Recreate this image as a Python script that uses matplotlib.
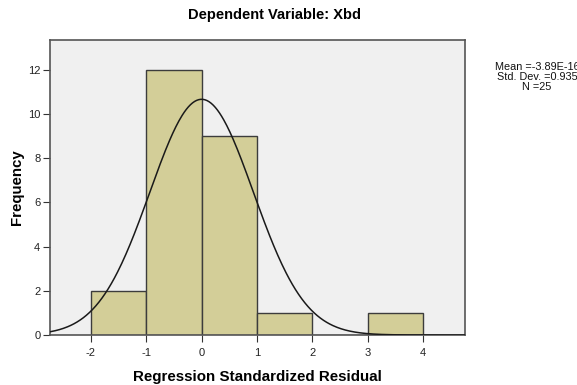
import numpy as np
import matplotlib
matplotlib.use("Agg")
import matplotlib.pyplot as plt

plt.rcParams['font.family'] = ['Liberation Sans', 'DejaVu Sans']
plt.rcParams['axes.unicode_minus'] = False

bin_edges = [-2, -1, 0, 1, 2, 3, 4]
counts = [2, 12, 9, 1, 0, 1]
mean = -3.89e-16
std = 0.935
n = 25
xticks = [-2, -1, 0, 1, 2, 3, 4]
yticks = [0, 2, 4, 6, 8, 10, 12]

fig = plt.figure(figsize=(5.77, 3.85), dpi=100)
ax = fig.add_axes([50/577, 1 - 335/385, 415/577, 295/385])
ax.set_facecolor('#F0F0F0')

lefts = bin_edges[:-1]
widths = np.diff(bin_edges)
ax.bar(lefts, counts, width=widths, align='edge', color='#D3CE98',
       edgecolor='#3C3C3C', linewidth=1.0, zorder=2)

xs = np.linspace(-2.74, 4.76, 400)
bw = 1.0
ys = n * bw / (std * np.sqrt(2 * np.pi)) * np.exp(-0.5 * ((xs - mean) / std) ** 2)
ax.plot(xs, ys, color='#1A1A1A', linewidth=1.1, zorder=3)

ax.set_xlim(-2.74, 4.76)
ax.set_ylim(0, 13.35)
ax.set_xticks(xticks)
ax.set_yticks(yticks)
ax.tick_params(axis='both', direction='out', length=5, width=0.8,
               color='#333333', labelsize=8, labelcolor='#222222')
ax.tick_params(axis='x', pad=4)
ax.tick_params(axis='y', pad=2)
for s in ax.spines.values():
    s.set_color('#555555')
    s.set_linewidth(1.2)

ax.set_xlabel('Regression Standardized Residual', fontsize=10.9,
              fontweight='bold', labelpad=9)
ax.set_ylabel('Frequency', fontsize=10.8, fontweight='bold', labelpad=3)
fig.text(275/577, 1 - 15/385, 'Dependent Variable: Xbd', ha='center',
         va='center', fontsize=10.5, fontweight='bold')

fig.text(537/577, 1 - 77/385,
         f'Mean =-3.89E-16\nStd. Dev. ={std}\nN ={n}',
         ha='center', va='center', fontsize=7.8, linespacing=0.95,
         color='#111111')

fig.savefig('out.png', dpi=100)
